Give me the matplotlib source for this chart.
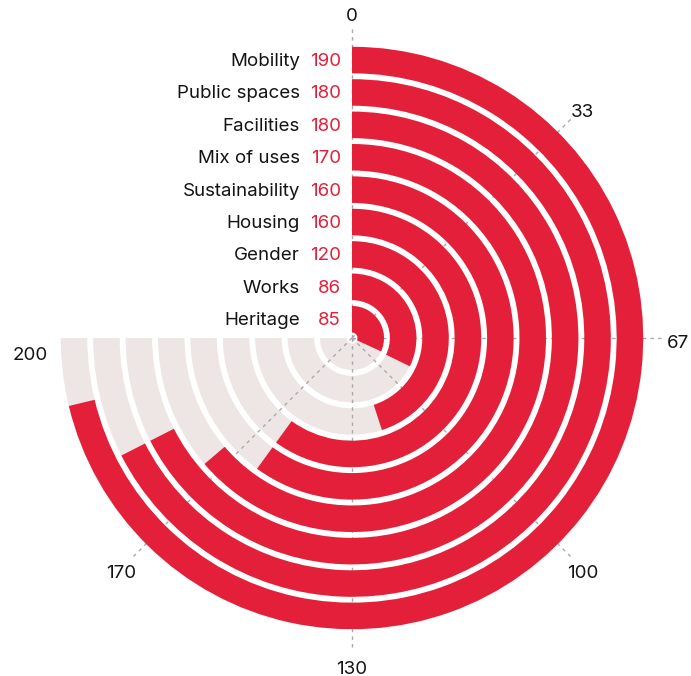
import numpy as np
import matplotlib.pyplot as plt

plt.rcParams['font.family'] = ['Inter', 'DejaVu Sans']

# innermost ring first
categories = ['Heritage', 'Works', 'Gender', 'Housing', 'Sustainability',
              'Mix of uses', 'Facilities', 'Public spaces', 'Mobility']
values = [85, 86, 120, 160, 160, 170, 180, 180, 190]
tick_values = [0, 200 / 6, 400 / 6, 100, 800 / 6, 1000 / 6, 200]
tick_labels = ['0', '33', '67', '100', '130', '170', '200']

vmax = 200
span = 1.5 * np.pi  # 270 degrees of sweep

red = '#e41f3a'
track = '#ede6e4'
grid_col = '#a9a9a9'

fig = plt.figure(figsize=(6.91, 6.76), dpi=100)
W, H = 691, 676
cx, cy = 352, 338
R = 340
ax = fig.add_axes([(cx - R) / W, (H - cy - R) / H, 2 * R / W, 2 * R / H],
                  projection='polar')
ax.set_theta_zero_location('N')
ax.set_theta_direction(-1)
ax.set_ylim(0, R)
ax.axis('off')

def to_theta(v):
    return v / vmax * span

r0, pitch, thick = 5.5, 32.4, 26.5
bottoms = [r0 + i * pitch for i in range(len(categories))]

# grey tracks for the full sweep
for b in bottoms:
    ax.bar(0, thick, width=span, bottom=b, align='edge', color=track,
           edgecolor='none', zorder=1)

# dashed radial guides (none on the closing edge)
for tv in tick_values[:-1]:
    t = to_theta(tv)
    ax.plot([t, t], [0, 310], color=grid_col, lw=1, dashes=(2.5, 3),
            zorder=2)

# value bars
for b, v in zip(bottoms, values):
    ax.bar(0, thick, width=to_theta(v), bottom=b, align='edge', color=red,
           edgecolor='none', zorder=3)

# labels left of the zero line
for b, name, v in zip(bottoms, categories, values):
    rm = b + thick / 2
    ax.annotate(str(v), xy=(0, rm), xytext=(-11 * 0.72, -1.5 * 0.72),
                textcoords='offset points', ha='right', va='center',
                color=red, fontsize=13.5, annotation_clip=False)
    ax.annotate(name, xy=(0, rm), xytext=(-52 * 0.72, -1.5 * 0.72),
                textcoords='offset points', ha='right', va='center',
                color='#141414', fontsize=13.5, annotation_clip=False)

# angular tick labels
for tv, lab in zip(tick_values, tick_labels):
    dx, dy = (4 * 0.72, -15 * 0.72) if lab == '200' else (0, -3 * 0.72)
    ax.annotate(lab, xy=(to_theta(tv), 326), xytext=(dx, dy),
                textcoords='offset points', ha='center',
                va='center_baseline', color='#141414', fontsize=13.5,
                annotation_clip=False)

fig.savefig('out.png', dpi=100)
